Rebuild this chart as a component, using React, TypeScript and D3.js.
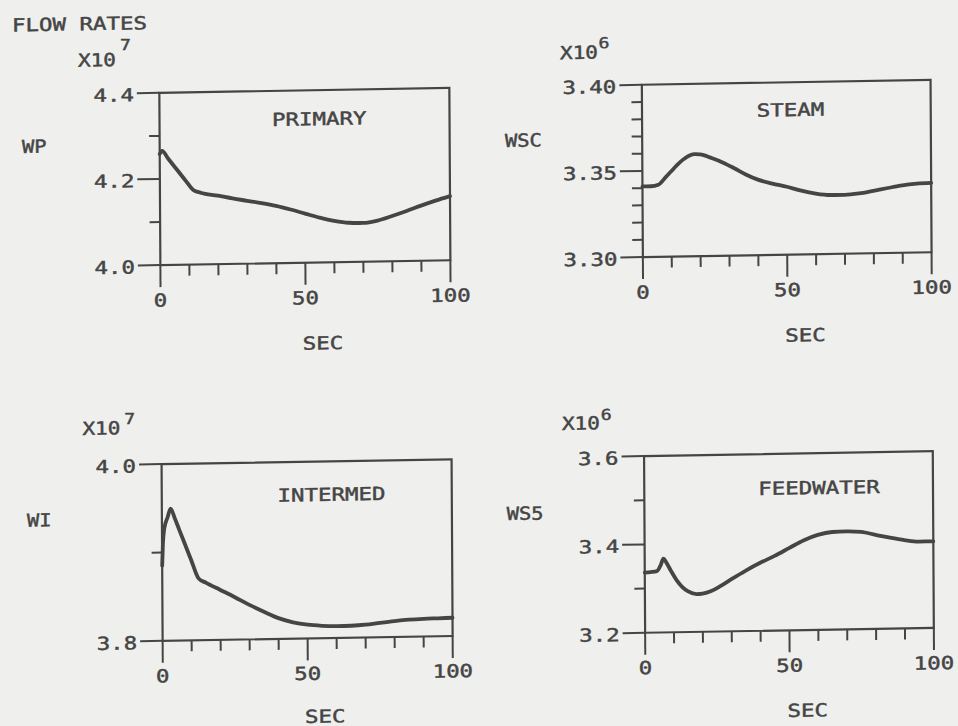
import React from 'react';
import * as d3 from 'd3';

// ---------- data ----------
const primaryT = [0, 0.8, 3, 6, 9, 11.5, 14, 20, 25, 30, 35, 40, 45, 50, 55, 60, 65, 70, 75, 80, 85, 90, 95, 100];
const primaryWP = [4.258, 4.265, 4.246, 4.22, 4.194, 4.173, 4.1665, 4.159, 4.152, 4.146, 4.14, 4.133, 4.124, 4.114, 4.104, 4.096, 4.091, 4.09, 4.095, 4.105, 4.116, 4.128, 4.139, 4.149];

const steamT = [0, 3, 5.5, 8, 10, 12, 14, 16, 18, 20, 24, 28, 32, 36, 40, 45, 50, 55, 60, 65, 70, 75, 80, 85, 90, 95, 100];
const steamWSC = [3.341, 3.341, 3.3418, 3.346, 3.3495, 3.353, 3.356, 3.3582, 3.3592, 3.359, 3.3568, 3.354, 3.3505, 3.3468, 3.3438, 3.3414, 3.3394, 3.337, 3.3352, 3.3342, 3.3341, 3.3348, 3.3362, 3.3377, 3.3391, 3.3399, 3.3402];

const intermedT = [0, 0.3, 0.8, 2, 3, 4.5, 6, 8, 10, 12.5, 15, 20, 25, 30, 35, 40, 45, 50, 55, 60, 65, 70, 75, 80, 85, 90, 95, 100];
const intermedWI = [3.885, 3.91, 3.927, 3.94, 3.9495, 3.938, 3.925, 3.908, 3.891, 3.87, 3.865, 3.8565, 3.848, 3.839, 3.831, 3.8235, 3.8185, 3.8155, 3.814, 3.8133, 3.8135, 3.8144, 3.8163, 3.818, 3.8193, 3.82, 3.8203, 3.8206];

const feedT = [0, 2, 4.2, 5.5, 6.5, 7.5, 9, 11, 13, 15, 17.9, 20, 23, 26, 30, 35, 40, 45, 50, 55, 60, 65, 70, 75, 80, 85, 90, 95, 100];
const feedWS5 = [3.336, 3.337, 3.339, 3.352, 3.367, 3.358, 3.34, 3.318, 3.302, 3.292, 3.2855, 3.2865, 3.292, 3.302, 3.318, 3.337, 3.354, 3.369, 3.386, 3.403, 3.415, 3.421, 3.422, 3.42, 3.413, 3.406, 3.4, 3.396, 3.396];

const xMajorTicks = [0, 50, 100];
const xMinorTicks = [10, 20, 30, 40, 60, 70, 80, 90];
const xTickLabels = ['0', '50', '100'];

const wpMajor = [4.0, 4.2, 4.4];
const wpMinor = [4.1, 4.3];
const wpLabels = ['4.0', '4.2', '4.4'];

const wscMajor = [3.30, 3.35, 3.40];
const wscMinor = [3.31, 3.32, 3.33, 3.34, 3.36, 3.37, 3.38, 3.39];
const wscLabels = ['3.30', '3.35', '3.40'];

const wiMajor = [3.8, 4.0];
const wiMinor = [3.9];
const wiLabels = ['3.8', '4.0'];

const ws5Major = [3.2, 3.4, 3.6];
const ws5Minor = [3.3, 3.5];
const ws5Labels = ['3.2', '3.4', '3.6'];

const pageTitle = 'FLOW RATES';
const xAxisTitle = 'SEC';

// ---------- style ----------
const W = 958;
const H = 726;
const BG = '#efefed';
const INK = '#454545';
const FONT = "'DejaVu Sans Mono', 'Liberation Mono', monospace";

type Off = [number, number];
interface PanelDef {
  x0: number; y0: number; w: number; h: number;
  t: number[]; v: number[];
  yDomain: [number, number];
  yMajor: number[]; yMinor: number[]; yLabels: string[];
  name: string; nameOff: Off;
  title: string; titleOff: Off;
  expo: string; expoOff: Off; supOff: Off;
  secDy: number;
}

function PText(props: { x: number; y: number; s: string; anchor?: string; size?: number; adv?: number; len?: number }) {
  const { x, y, s, anchor = 'start', size = 18, adv = 13.5, len } = props;
  return (
    <text
      x={x}
      y={y}
      fontSize={size}
      fontFamily={FONT}
      fill={INK}
      stroke={INK}
      strokeWidth={0.45}
      textAnchor={anchor as any}
      textLength={len ?? s.length * adv}
      lengthAdjust="spacingAndGlyphs"
    >
      {s}
    </text>
  );
}

function Panel({ p }: { p: PanelDef }) {
  const xs = d3.scaleLinear().domain([0, 100]).range([p.x0, p.x0 + p.w]);
  const ys = d3.scaleLinear().domain(p.yDomain).range([p.y0 + p.h, p.y0]);
  const line = d3
    .line<number>()
    .x((_, i) => xs(p.t[i]))
    .y((d) => ys(d))
    .curve(d3.curveMonotoneX);
  const y1 = p.y0 + p.h;
  return (
    <g>
      {/* frame */}
      <rect x={p.x0} y={p.y0} width={p.w} height={p.h} fill="none" stroke={INK} strokeWidth={2.2} />
      {/* y ticks */}
      {p.yMajor.map((v, i) => (
        <g key={'ym' + i}>
          <line x1={p.x0 - 22.5} x2={p.x0} y1={ys(v)} y2={ys(v)} stroke={INK} strokeWidth={2} />
          <PText x={p.x0 - 25.5} y={ys(v) + 8} s={p.yLabels[i]} anchor="end" />
        </g>
      ))}
      {p.yMinor.map((v, i) => (
        <line key={'yn' + i} x1={p.x0 - 10.5} x2={p.x0} y1={ys(v)} y2={ys(v)} stroke={INK} strokeWidth={2} />
      ))}
      {/* x ticks */}
      {xMajorTicks.map((v, i) => (
        <g key={'xm' + i}>
          <line x1={xs(v)} x2={xs(v)} y1={y1} y2={y1 + 22} stroke={INK} strokeWidth={2} />
          <PText x={xs(v)} y={y1 + 41.5} s={xTickLabels[i]} anchor="middle" />
        </g>
      ))}
      {xMinorTicks.map((v, i) => (
        <line key={'xn' + i} x1={xs(v)} x2={xs(v)} y1={y1} y2={y1 + 11} stroke={INK} strokeWidth={2} />
      ))}
      {/* curve */}
      <path d={line(p.v) || ''} fill="none" stroke={INK} strokeWidth={3.8} strokeLinejoin="round" strokeLinecap="round" />
      {/* labels */}
      <PText x={p.x0 + p.titleOff[0]} y={p.y0 + p.titleOff[1]} s={p.title} />
      <PText x={p.x0 + p.nameOff[0]} y={p.y0 + p.nameOff[1]} s={p.name} adv={12.3} />
      <PText x={p.x0 + p.expoOff[0]} y={p.y0 + p.expoOff[1]} s="X10" len={38} />
      <PText x={p.x0 + p.supOff[0]} y={p.y0 + p.supOff[1]} s={p.expo} size={15} adv={11} />
      <PText x={p.x0 + 162} y={y1 + p.secDy} s={xAxisTitle} anchor="middle" />
    </g>
  );
}

const panels: PanelDef[] = [
  {
    x0: 161, y0: 87.5, w: 290, h: 172.3,
    t: primaryT, v: primaryWP, yDomain: [4.0, 4.4],
    yMajor: wpMajor, yMinor: wpMinor, yLabels: wpLabels,
    name: 'WP', nameOff: [-137.7, 57.9],
    title: 'PRIMARY', titleOff: [112.4, 35],
    expo: '7', expoOff: [-81.2, -27.5], supOff: [-39, -43.5],
    secDy: 87,
  },
  {
    x0: 643.5, y0: 87.5, w: 288.7, h: 172.3,
    t: steamT, v: steamWSC, yDomain: [3.30, 3.40],
    yMajor: wscMajor, yMinor: wscMinor, yLabels: wscLabels,
    name: 'WSC', nameOff: [-137.2, 59.9],
    title: 'STEAM', titleOff: [114.7, 33.8],
    expo: '6', expoOff: [-81.7, -26.9], supOff: [-43, -37.2],
    secDy: 87,
  },
  {
    x0: 161, y0: 458.8, w: 290, h: 176.7,
    t: intermedT, v: intermedWI, yDomain: [3.8, 4.0],
    yMajor: wiMajor, yMinor: wiMinor, yLabels: wiLabels,
    name: 'WI', nameOff: [-135, 60.4],
    title: 'INTERMED', titleOff: [115.6, 39.5],
    expo: '7', expoOff: [-79, -30.4], supOff: [-37, -40.8],
    secDy: 84.5,
  },
  {
    x0: 643.5, y0: 458.8, w: 288.7, h: 176.7,
    t: feedT, v: feedWS5, yDomain: [3.2, 3.6],
    yMajor: ws5Major, yMinor: ws5Minor, yLabels: ws5Labels,
    name: 'WS5', nameOff: [-137.7, 61.7],
    title: 'FEEDWATER', titleOff: [114, 40.9],
    expo: '6', expoOff: [-82, -27.4], supOff: [-43, -36.8],
    secDy: 86.5,
  },
];

export default function App() {
  return (
    <svg
      width={W}
      height={H}
      viewBox={`0 0 ${W} ${H}`}
      style={{ position: 'absolute', left: 0, top: 0, display: 'block' }}
    >
      <rect x={0} y={0} width={W} height={H} fill={BG} />
      {/* the scanned page is slightly skewed */}
      <g transform="matrix(1,-0.0167,0.006,1,-2.18,8.0)">
        <PText x={14} y={23.7} s={pageTitle} />
        {panels.map((p, i) => (
          <Panel key={i} p={p} />
        ))}
      </g>
    </svg>
  );
}
